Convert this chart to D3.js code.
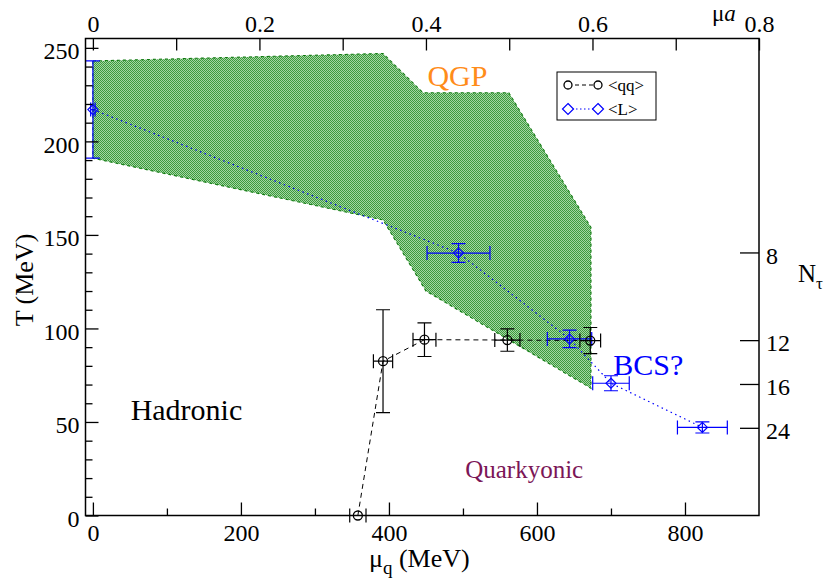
<!DOCTYPE html>
<html>
<head>
<meta charset="utf-8">
<script src="https://cdn.jsdelivr.net/npm/d3@7"></script>
<style>
  body { margin: 0; background: #fff; }
  text { font-family: "Liberation Serif", "Times New Roman", serif; }
</style>
</head>
<body>
<svg id="chart" width="825" height="585"></svg>
<script>
// <qq> points: quark chemical potential (MeV), temperature (MeV), errors
var qqMu = [358, 392, 448, 560, 672];
var qqT = [0, 82.5, 94, 93.8, 93.5];
var qqMuErr = [11, 13, 15.5, 17, 14];
var qqTErr = [0, 27.5, 9, 6, 7];

// <L> (Polyakov loop) points
var lMu = [0, 494, 644, 700, 823.5];
var lT = [217, 140.3, 94.4, 70.7, 47.1];
var lMuErr = [3, 42.5, 30, 24.7, 33.7];
var lTErr = [26, 5, 4.7, 4, 3];

// shaded transition band, outline going clockwise
var bandMu = [0, 392, 446, 562, 673, 673, 450, 392, 0];
var bandT = [243, 247, 226, 226, 154, 68, 120, 158, 191];

// tick values
var muTicks = [0, 200, 400, 600, 800];
var muMinor = [100, 300, 500, 700];
var tTicks = [0, 50, 100, 150, 200, 250];
var tMinor = d3.range(10, 250, 10).filter(function (v) { return v % 50 !== 0; });
var muaTicks = [0, 0.2, 0.4, 0.6, 0.8];
var muaMinor = [0.1, 0.3, 0.5, 0.7];
var ntTicks = [8, 12, 16, 24];

var TN = 1125; // T * N_tau (MeV), also 1/a
var FONT = '"Liberation Serif", "Times New Roman", serif';

var svg = d3.select('#chart');
var pLeft = 85.5, pRight = 759, pTop = 38.5, pBottom = 515.5;

var x = d3.scaleLinear().domain([-10, 900]).range([pLeft, pRight]);
var y = d3.scaleLinear().domain([0, 255]).range([pBottom, pTop]);
var xTop = d3.scaleLinear().domain([-10 / TN, 900 / TN]).range([pLeft, pRight]);

// stipple fill for the band
var defs = svg.append('defs');
var pat = defs.append('pattern').attr('id', 'stip').attr('patternUnits', 'userSpaceOnUse')
  .attr('width', 2).attr('height', 2);
pat.append('rect').attr('width', 2).attr('height', 2).attr('fill', '#a3d6a3');
pat.append('rect').attr('width', 1).attr('height', 1).attr('fill', '#3d9a3d');
pat.append('rect').attr('x', 1).attr('y', 1).attr('width', 1).attr('height', 1).attr('fill', '#3d9a3d');

var band = bandMu.map(function (m, i) { return [x(m), y(bandT[i])]; });
svg.append('path')
  .attr('d', d3.line()(band) + 'Z')
  .attr('fill', 'url(#stip)')
  .attr('stroke', '#107a10')
  .attr('stroke-width', 1.1)
  .attr('stroke-dasharray', '3,3');

function series(mu, t, muErr, tErr) {
  return mu.map(function (m, i) { return { mu: m, t: t[i], mx: muErr[i], tx: tErr[i] }; });
}
var qq = series(qqMu, qqT, qqMuErr, qqTErr);
var pl = series(lMu, lT, lMuErr, lTErr);

var line = d3.line().x(function (d) { return x(d.mu); }).y(function (d) { return y(d.t); });

svg.append('path').attr('d', line(pl)).attr('fill', 'none')
  .attr('stroke', '#0000ff').attr('stroke-width', 1.2).attr('stroke-dasharray', '1.5,3.5');
svg.append('path').attr('d', line(qq)).attr('fill', 'none')
  .attr('stroke', '#000').attr('stroke-width', 1).attr('stroke-dasharray', '5,4');

// error bars with caps
function errorBars(data, color) {
  var cap = 7;
  var g = svg.append('g').attr('stroke', color).attr('stroke-width', 1.2).attr('fill', 'none');
  data.forEach(function (d) {
    var cx = x(d.mu), cy = y(d.t);
    if (d.mx > 0) {
      var x0 = x(d.mu - d.mx), x1 = x(d.mu + d.mx);
      g.append('path').attr('d', 'M' + x0 + ',' + cy + 'H' + x1 +
        'M' + x0 + ',' + (cy - cap) + 'V' + (cy + cap) +
        'M' + x1 + ',' + (cy - cap) + 'V' + (cy + cap));
    }
    if (d.tx > 0) {
      var y0 = y(d.t - d.tx), y1 = y(d.t + d.tx);
      g.append('path').attr('d', 'M' + cx + ',' + y0 + 'V' + y1 +
        'M' + (cx - cap) + ',' + y0 + 'H' + (cx + cap) +
        'M' + (cx - cap) + ',' + y1 + 'H' + (cx + cap));
    }
  });
}
errorBars(pl, '#0000ff');
errorBars(qq, '#000');

function diamond(cx, cy, r) {
  return 'M' + cx + ',' + (cy - r) + 'L' + (cx + r) + ',' + cy + 'L' + cx + ',' + (cy + r) +
    'L' + (cx - r) + ',' + cy + 'Z';
}

svg.append('g').selectAll('path').data(pl).enter().append('path')
  .attr('d', function (d) { return diamond(x(d.mu), y(d.t), 5); })
  .attr('fill', 'none').attr('stroke', '#0000ff').attr('stroke-width', 1.2);
svg.append('g').selectAll('circle').data(qq).enter().append('circle')
  .attr('cx', function (d) { return x(d.mu); })
  .attr('cy', function (d) { return y(d.t); })
  .attr('r', 4.5)
  .attr('fill', 'none').attr('stroke', '#000').attr('stroke-width', 1.3);

// region labels
function label(txt, px, py, size, color) {
  svg.append('text').attr('x', px).attr('y', py).attr('font-size', size)
    .attr('fill', color).text(txt);
}
label('QGP', x(452), 86, 30, '#ff8c1a');
label('BCS?', x(703), 375, 30, '#0000ff');
label('Hadronic', x(51), 420, 30, '#000');
label('Quarkyonic', x(503), 478, 25, '#7b1657');

// legend
var lg = svg.append('g').attr('transform', 'translate(557,72)');
lg.append('rect').attr('width', 99).attr('height', 48).attr('fill', '#fff')
  .attr('stroke', '#000').attr('stroke-width', 1);
lg.append('line').attr('x1', 11).attr('x2', 41).attr('y1', 13).attr('y2', 13)
  .attr('stroke', '#000').attr('stroke-dasharray', '4,3');
[11, 41].forEach(function (cx) {
  lg.append('circle').attr('cx', cx).attr('cy', 13).attr('r', 4)
    .attr('fill', '#fff').attr('stroke', '#000').attr('stroke-width', 1.3);
});
lg.append('line').attr('x1', 11).attr('x2', 41).attr('y1', 37).attr('y2', 37)
  .attr('stroke', '#0000ff').attr('stroke-dasharray', '1.5,2.5');
[11, 41].forEach(function (cx) {
  lg.append('path').attr('d', diamond(cx, 37, 5.5))
    .attr('fill', '#fff').attr('stroke', '#0000ff').attr('stroke-width', 1.2);
});
lg.append('text').attr('x', 51).attr('y', 19).attr('font-size', 17).text('<qq>');
lg.append('text').attr('x', 51).attr('y', 43).attr('font-size', 17).text('<L>');

// axes
function styleAxis(g) {
  g.select('.domain').remove();
  g.selectAll('line').attr('stroke', '#000').attr('stroke-width', 1.3);
  g.selectAll('text').attr('font-family', FONT).attr('font-size', 24).attr('fill', '#000');
}

svg.append('g').attr('transform', 'translate(0,' + pBottom + ')')
  .call(d3.axisBottom(x).tickValues(muTicks).tickSize(-13).tickPadding(9).tickFormat(d3.format('d')))
  .call(styleAxis)
  .selectAll('text').attr('dy', '0.71em').attr('y', 8);
svg.append('g').attr('transform', 'translate(0,' + pBottom + ')')
  .call(d3.axisBottom(x).tickValues(muMinor).tickSize(-7).tickFormat(''))
  .call(styleAxis);

svg.append('g').attr('transform', 'translate(' + pLeft + ',0)')
  .call(d3.axisLeft(y).tickValues(tTicks).tickSize(-13).tickPadding(6).tickFormat(d3.format('d')))
  .call(styleAxis)
  .selectAll('text').attr('dy', '0.45em');
svg.append('g').attr('transform', 'translate(' + pLeft + ',0)')
  .call(d3.axisLeft(y).tickValues(tMinor).tickSize(-7).tickFormat(''))
  .call(styleAxis);

svg.append('g').attr('transform', 'translate(0,' + pTop + ')')
  .call(d3.axisTop(xTop).tickValues(muaTicks).tickSize(-12).tickPadding(7).tickFormat(function (v) { return v === 0 ? '0' : d3.format('.1f')(v); }))
  .call(styleAxis);
svg.append('g').attr('transform', 'translate(0,' + pTop + ')')
  .call(d3.axisTop(xTop).tickValues(muaMinor).tickSize(-12).tickFormat(''))
  .call(styleAxis);

// N_tau axis on the right: T = TN / N_tau
svg.append('g').attr('transform', 'translate(' + pRight + ',0)')
  .call(d3.axisRight(y).tickValues(ntTicks.map(function (n) { return TN / n; }))
    .tickSize(-19).tickPadding(7).tickFormat(function (t) { return Math.round(TN / t); }))
  .call(styleAxis)
  .selectAll('text').attr('dy', '0.45em');

// frame
svg.append('rect').attr('x', pLeft).attr('y', pTop).attr('width', pRight - pLeft).attr('height', pBottom - pTop)
  .attr('fill', 'none').attr('stroke', '#000').attr('stroke-width', 1.5);

// axis titles
svg.append('text').attr('transform', 'translate(33,280) rotate(-90)')
  .attr('text-anchor', 'middle').attr('font-size', 26).text('T (MeV)');

var xt = svg.append('text').attr('x', 369).attr('y', 567).attr('font-size', 26);
xt.append('tspan').text('\u03bc');
xt.append('tspan').attr('font-size', 19).attr('dy', 7).text('q');
xt.append('tspan').attr('dy', -7).text(' (MeV)');

var mt = svg.append('text').attr('x', 712).attr('y', 21).attr('font-size', 23);
mt.append('tspan').text('\u03bc');
mt.append('tspan').attr('font-style', 'italic').text('a');

var nt = svg.append('text').attr('x', 798).attr('y', 282).attr('font-size', 25);
nt.append('tspan').text('N');
nt.append('tspan').attr('font-size', 17).attr('dy', 7).text('\u03c4');
</script>
</body>
</html>
